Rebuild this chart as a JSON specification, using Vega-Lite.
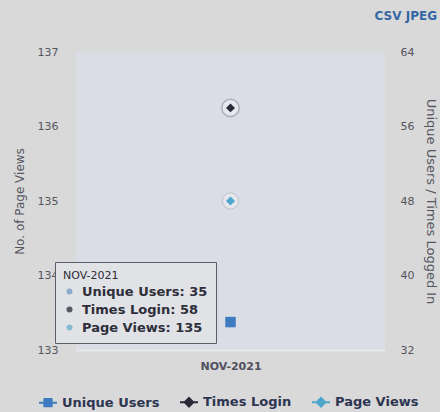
{
  "$schema": "https://vega.github.io/schema/vega-lite/v6.json",
  "autosize": {"type": "none"},
  "width": 309,
  "height": 298,
  "padding": {"left": 76, "top": 52, "right": 55, "bottom": 62},
  "background": "#d9d9d9",
  "config": {
    "font": "DejaVu Sans",
    "view": {"fill": "#dadde5", "stroke": null}
  },
  "title": {
    "text": "CSV   JPEG",
    "anchor": "end",
    "frame": "group",
    "dx": 52,
    "offset": 23,
    "fontSize": 12,
    "fontWeight": "bold",
    "color": "#3466a5"
  },
  "data": {
    "values": [
      {"month": "NOV-2021", "series": "Unique Users", "value": 35, "axis": "right"},
      {"month": "NOV-2021", "series": "Times Login", "value": 58, "axis": "right"},
      {"month": "NOV-2021", "series": "Page Views", "value": 135, "axis": "left"}
    ]
  },
  "transform": [
    {"calculate": "datum.series + ': ' + datum.value", "as": "tip"}
  ],
  "encoding": {
    "x": {
      "field": "month",
      "type": "ordinal",
      "scale": {"type": "point", "padding": 0.5},
      "axis": {
        "title": null,
        "labelAngle": 0,
        "ticks": false,
        "labelPadding": 10,
        "labelFontSize": 11,
        "labelFontWeight": "bold",
        "labelColor": "#505060",
        "domainColor": "#e6e7ec",
        "domainWidth": 2,
        "grid": false
      }
    }
  },
  "layer": [
    {
      "transform": [{"filter": "datum.axis === 'left'"}],
      "encoding": {
        "y": {
          "field": "value",
          "type": "quantitative",
          "scale": {"domain": [133, 137], "nice": false, "zero": false},
          "axis": {
            "orient": "left",
            "title": "No. of Page Views",
            "values": [133, 134, 135, 136, 137],
            "grid": false,
            "ticks": false,
            "domain": false,
            "labelPadding": 18,
            "labelFontSize": 11,
            "labelColor": "#555560",
            "titleFontSize": 12,
            "titleFontWeight": "normal",
            "titleColor": "#555560",
            "titlePadding": 11
          }
        }
      },
      "layer": [
        {
          "mark": {"type": "point", "shape": "circle", "filled": true, "size": 260, "color": "#eef0f5", "opacity": 0.55, "stroke": "#a5a7b2", "strokeWidth": 1}
        },
        {
          "mark": {"type": "point", "filled": true, "size": 80, "opacity": 1, "strokeWidth": 0},
          "encoding": {
            "fill": {"field": "series", "type": "nominal", "sort": ["Unique Users", "Times Login", "Page Views"]},
            "shape": {"condition": {"test": "datum.series === 'Unique Users'", "value": "square"}, "value": "diamond"}
          }
        }
      ]
    },
    {
      "transform": [{"filter": "datum.axis === 'right'"}],
      "encoding": {
        "y": {
          "field": "value",
          "type": "quantitative",
          "scale": {"domain": [32, 64], "nice": false, "zero": false},
          "axis": {
            "orient": "right",
            "title": "Unique Users / Times Logged In",
            "values": [32, 40, 48, 56, 64],
            "grid": false,
            "ticks": false,
            "domain": false,
            "labelPadding": 15,
            "labelFontSize": 11,
            "labelColor": "#555560",
            "titleFontSize": 13,
            "titleFontWeight": "normal",
            "titleColor": "#555560",
            "titlePadding": 10
          }
        }
      },
      "layer": [
        {
          "transform": [{"filter": "datum.series === 'Times Login'"}],
          "mark": {"type": "point", "shape": "circle", "filled": true, "size": 300, "color": "#eef0f5", "opacity": 0.6, "stroke": "#8e909c", "strokeWidth": 1.5}
        },
        {
          "mark": {"type": "point", "filled": true, "opacity": 1, "strokeWidth": 0},
          "encoding": {
            "size": {"condition": {"test": "datum.series === 'Unique Users'", "value": 110}, "value": 80},
            "fill": {"field": "series", "type": "nominal", "sort": ["Unique Users", "Times Login", "Page Views"]},
            "shape": {"condition": {"test": "datum.series === 'Unique Users'", "value": "square"}, "value": "diamond"}
          }
        }
      ]
    },
    {
      "mark": {"type": "point", "filled": true, "size": 0, "strokeWidth": 2},
      "encoding": {
        "fill": {
          "field": "series",
          "type": "nominal",
          "sort": ["Unique Users", "Times Login", "Page Views"],
          "scale": {"domain": ["Unique Users", "Times Login", "Page Views"], "range": ["#3f7bc0", "#2a2a38", "#4ea6cc"]},
          "legend": {
            "title": null,
            "orient": "none",
            "legendX": -38,
            "legendY": 340,
            "direction": "horizontal",
            "columns": 3,
            "columnPadding": 16,
            "labelFontSize": 13,
            "labelFontWeight": "bold",
            "labelColor": "#2e3550",
            "labelOffset": 4,
            "symbolSize": 324,
            "symbolStrokeWidth": 2
          }
        },
        "stroke": {
          "field": "series",
          "type": "nominal",
          "sort": ["Unique Users", "Times Login", "Page Views"],
          "scale": {"domain": ["Unique Users", "Times Login", "Page Views"], "range": ["#3f7bc0", "#2a2a38", "#4ea6cc"]}
        },
        "shape": {
          "field": "series",
          "type": "nominal",
          "sort": ["Unique Users", "Times Login", "Page Views"],
          "scale": {"domain": ["Unique Users", "Times Login", "Page Views"], "range": ["M-1,0H1M-0.4,-0.4H0.4V0.4H-0.4Z", "M-1,0H1M0,-0.48L0.48,0L0,0.48L-0.48,0Z", "M-1,0H1M0,-0.48L0.48,0L0,0.48L-0.48,0Z"]}
        }
      }
    },
    {
      "mark": {"type": "point", "filled": true, "size": 0, "strokeWidth": 0},
      "encoding": {
        "color": {
          "field": "tip",
          "type": "nominal",
          "sort": {"field": "value", "op": "min"},
          "scale": {"range": ["#6a92c0", "#1e1e28", "#5eaac8"]},
          "legend": {
            "title": "NOV-2021",
            "orient": "none",
            "legendX": -21,
            "legendY": 210,
            "direction": "vertical",
            "titleFontSize": 11,
            "titleFontWeight": "normal",
            "titleColor": "#2a2a35",
            "titlePadding": 4,
            "labelFontSize": 13,
            "labelFontWeight": "bold",
            "labelColor": "#2e2e3a",
            "labelOffset": 6,
            "symbolType": "circle",
            "symbolSize": 36,
            "symbolStrokeWidth": 0,
            "rowPadding": 4,
            "padding": 8,
            "fillColor": "#e1e2e6",
            "strokeColor": "#5c5d68",
            "encode": {"legend": {"update": {"strokeWidth": {"value": 2}}}}
          }
        }
      }
    }
  ],
  "resolve": {"scale": {"y": "independent"}, "axis": {"y": "independent"}}
}
